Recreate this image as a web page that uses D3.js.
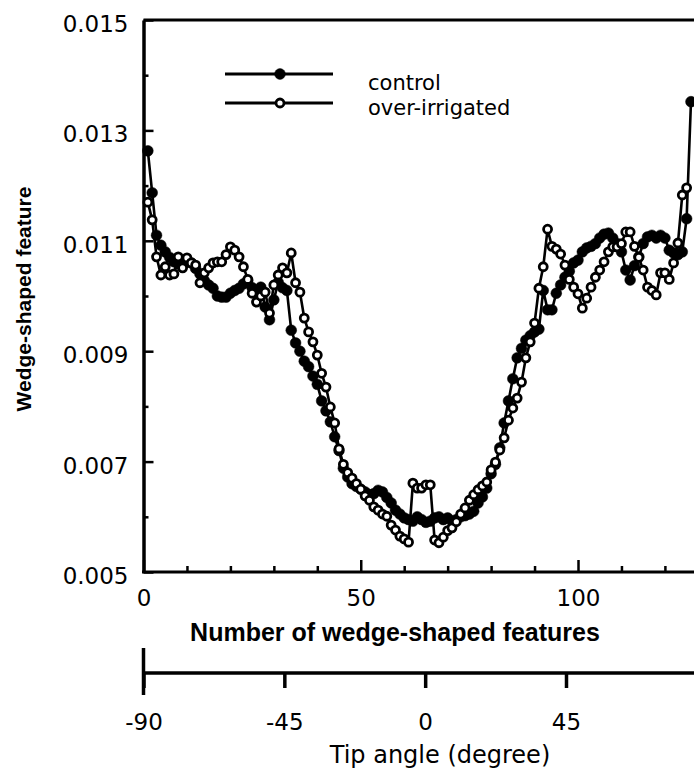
<!DOCTYPE html>
<html>
<head>
<meta charset="utf-8">
<script src="https://cdn.jsdelivr.net/npm/d3@7/dist/d3.min.js"></script>
<style>
  body { margin: 0; background: #fff; }
  svg { display: block; }
  .tick text { font-family: "DejaVu Sans", sans-serif; font-size: 23px; fill: #000; }
</style>
</head>
<body>
<svg id="chart" width="694" height="774"></svg>
<script>
// values, feature number 1, 2, 3 ...
const control = [
  0.01263, 0.01187, 0.01110, 0.01092, 0.01080, 0.01070, 0.01062, 0.01058, 0.01055, 0.01062,
  0.01060, 0.01050, 0.01040, 0.01028, 0.01020, 0.01014, 0.01000, 0.00998, 0.00998, 0.01005,
  0.01010, 0.01014, 0.01022, 0.01028, 0.01015, 0.01010, 0.01016, 0.00980, 0.00957, 0.00993,
  0.01025, 0.01015, 0.01010, 0.00938, 0.00915, 0.00900, 0.00882, 0.00872, 0.00855, 0.00840,
  0.00810, 0.00792, 0.00772, 0.00745, 0.00720, 0.00688, 0.00672, 0.00660, 0.00655, 0.00650,
  0.00645, 0.00640, 0.00642, 0.00648, 0.00645, 0.00635, 0.00625, 0.00612, 0.00605, 0.00598,
  0.00595, 0.00592, 0.00600, 0.00595, 0.00590, 0.00592, 0.00598, 0.00600, 0.00595, 0.00598,
  0.00592, 0.00595, 0.00600, 0.00602, 0.00605, 0.00610, 0.00625, 0.00636, 0.00652, 0.00678,
  0.00695, 0.00725, 0.00770, 0.00810, 0.00850, 0.00888, 0.00905, 0.00920, 0.00928, 0.00935,
  0.00940, 0.01010, 0.00975, 0.00975, 0.01005, 0.01020, 0.01034, 0.01045, 0.01060, 0.01065,
  0.01080, 0.01087, 0.01090, 0.01095, 0.01105, 0.01112, 0.01114, 0.01105, 0.01095, 0.01080,
  0.01047, 0.01029, 0.01055, 0.01071, 0.01095, 0.01107, 0.01110, 0.01105, 0.01110, 0.01105,
  0.01083, 0.01078, 0.01075, 0.01080, 0.01140, 0.01352
];
const overIrrigated = [
  0.01170, 0.01138, 0.01071, 0.01038, 0.01053, 0.01038, 0.01040, 0.01071, 0.01051, 0.01069,
  0.01060, 0.01056, 0.01024, 0.01042, 0.01051, 0.01060, 0.01062, 0.01062, 0.01075, 0.01089,
  0.01083, 0.01071, 0.01053, 0.01030, 0.01005, 0.00989, 0.01000, 0.01007, 0.00969, 0.01020,
  0.01038, 0.01051, 0.01042, 0.01078, 0.01024, 0.01007, 0.00960, 0.00935, 0.00917, 0.00893,
  0.00860, 0.00835, 0.00799, 0.00770, 0.00723, 0.00695, 0.00680, 0.00670, 0.00660, 0.00650,
  0.00638, 0.00630, 0.00618, 0.00612, 0.00605, 0.00601, 0.00585, 0.00576, 0.00565, 0.00560,
  0.00554, 0.00661, 0.00652, 0.00652, 0.00658, 0.00658, 0.00558, 0.00553, 0.00563, 0.00575,
  0.00580, 0.00591, 0.00605, 0.00616, 0.00630, 0.00640, 0.00649, 0.00656, 0.00663, 0.00685,
  0.00699, 0.00721, 0.00743, 0.00775, 0.00797, 0.00815, 0.00844, 0.00888, 0.00917, 0.00951,
  0.01014, 0.01053, 0.01121, 0.01090, 0.01085, 0.01076, 0.01056, 0.01030, 0.01016, 0.01004,
  0.00978, 0.00996, 0.01016, 0.01034, 0.01047, 0.01062, 0.01080, 0.01089, 0.01089, 0.01095,
  0.01116, 0.01116, 0.01090, 0.01070, 0.01047, 0.01016, 0.01010, 0.01002, 0.01042, 0.01042,
  0.01030, 0.01060, 0.01096, 0.01183, 0.01196
];
const seriesNames = ['control', 'over-irrigated'];
const yTicks = [0.005, 0.007, 0.009, 0.011, 0.013, 0.015];
const yMinorTicks = [0.006, 0.008, 0.010, 0.012, 0.014];
const xTicks = [0, 50, 100];
const xMinorTicks = [10, 20, 30, 40, 60, 70, 80, 90, 110, 120];
const angleTicks = [-90, -45, 0, 45];

const W = 694, H = 774;
const svg = d3.select('#chart');

const x = d3.scaleLinear().domain([0, 100]).range([143.5, 578]);
const y = d3.scaleLinear().domain([0.005, 0.015]).range([572, 20]);
const angle = d3.scaleLinear().domain([-90, 45]).range([143.5, 566]);

// frame: top line and bottom line run off the right edge
svg.append('line')
  .attr('x1', x(0)).attr('x2', W)
  .attr('y1', y(0.015)).attr('y2', y(0.015))
  .attr('stroke', '#000').attr('stroke-width', 3);

// y axis
let yAxis = svg.append('g')
  .attr('transform', 'translate(' + x(0) + ',0)')
  .call(d3.axisLeft(y).tickValues(yTicks).tickSize(-10).tickSizeOuter(0)
    .tickPadding(15).tickFormat(d3.format('.3f')));
yAxis.select('.domain').attr('stroke-width', 3.5);
yAxis.selectAll('.tick line').attr('stroke-width', 2.5);
yAxis.selectAll('.tick text').attr('dy', '0.5em');

svg.append('g')
  .attr('transform', 'translate(' + x(0) + ',0)')
  .call(d3.axisLeft(y).tickValues(yMinorTicks).tickSize(-5).tickFormat(''))
  .call(g => g.select('.domain').remove())
  .selectAll('.tick line').attr('stroke-width', 2.5);

// x axis
svg.append('line')
  .attr('x1', x(0) - 1.5).attr('x2', W)
  .attr('y1', y(0.005)).attr('y2', y(0.005))
  .attr('stroke', '#000').attr('stroke-width', 3);

let xAxis = svg.append('g')
  .attr('transform', 'translate(0,' + y(0.005) + ')')
  .call(d3.axisBottom(x).tickValues(xTicks).tickSize(-12).tickPadding(18).tickFormat(d3.format('d')));
xAxis.select('.domain').remove();
xAxis.selectAll('.tick line').attr('stroke-width', 2.5);

svg.append('g')
  .attr('transform', 'translate(0,' + y(0.005) + ')')
  .call(d3.axisBottom(x).tickValues(xMinorTicks).tickSize(-6).tickFormat(''))
  .call(g => g.select('.domain').remove())
  .selectAll('.tick line').attr('stroke-width', 2.5);

svg.append('text')
  .attr('x', 395).attr('y', 641)
  .attr('text-anchor', 'middle')
  .attr('font-family', '"Liberation Sans", Arial, sans-serif')
  .attr('font-weight', 'bold').attr('font-size', 25)
  .text('Number of wedge-shaped features');

svg.append('text')
  .attr('transform', 'translate(31,299) rotate(-90)')
  .attr('text-anchor', 'middle')
  .attr('font-family', '"Liberation Sans", Arial, sans-serif')
  .attr('font-weight', 'bold').attr('font-size', 21)
  .text('Wedge-shaped feature');

// tip angle axis
const angleY = 673;
svg.append('line')
  .attr('x1', angle(-90) - 1.5).attr('x2', W)
  .attr('y1', angleY).attr('y2', angleY)
  .attr('stroke', '#000').attr('stroke-width', 3.5);

let aAxis = svg.append('g')
  .attr('transform', 'translate(0,' + angleY + ')')
  .call(d3.axisBottom(angle).tickValues(angleTicks).tickSize(15).tickPadding(26)
    .tickFormat(d => String(d)));
aAxis.select('.domain').remove();
aAxis.selectAll('.tick line').attr('stroke-width', 3.5);

svg.append('line')
  .attr('x1', angle(-90)).attr('x2', angle(-90))
  .attr('y1', angleY - 25).attr('y2', angleY + 22)
  .attr('stroke', '#000').attr('stroke-width', 3.5);

svg.append('text')
  .attr('x', 440).attr('y', 763)
  .attr('text-anchor', 'middle')
  .attr('font-family', '"DejaVu Sans", sans-serif')
  .attr('font-size', 24)
  .text('Tip angle (degree)');

// series
const line = d3.line()
  .x((d, i) => x(i + 1))
  .y(d => y(d));

function drawSeries(data, filled) {
  svg.append('path')
    .datum(data)
    .attr('d', line)
    .attr('fill', 'none')
    .attr('stroke', '#000')
    .attr('stroke-width', 2.6);
  svg.append('g')
    .selectAll('circle')
    .data(data)
    .enter()
    .append('circle')
    .attr('cx', (d, i) => x(i + 1))
    .attr('cy', d => y(d))
    .attr('r', filled ? 5.4 : 4)
    .attr('fill', filled ? '#000' : '#fff')
    .attr('stroke', '#000')
    .attr('stroke-width', filled ? 0.5 : 2.8);
}
drawSeries(control, true);
drawSeries(overIrrigated, false);

// legend
const legend = svg.append('g');
const legendRows = [74, 103];
const legendText = [90, 115];
seriesNames.forEach(function (name, i) {
  legend.append('line')
    .attr('x1', 225).attr('x2', 333)
    .attr('y1', legendRows[i]).attr('y2', legendRows[i])
    .attr('stroke', '#000').attr('stroke-width', 2.8);
  legend.append('circle')
    .attr('cx', 280).attr('cy', legendRows[i])
    .attr('r', i === 0 ? 5.4 : 4)
    .attr('fill', i === 0 ? '#000' : '#fff')
    .attr('stroke', '#000')
    .attr('stroke-width', i === 0 ? 0.5 : 2.8);
  legend.append('text')
    .attr('x', 368).attr('y', legendText[i])
    .attr('font-family', '"DejaVu Sans", sans-serif')
    .attr('font-size', 21)
    .text(name);
});
</script>
</body>
</html>
